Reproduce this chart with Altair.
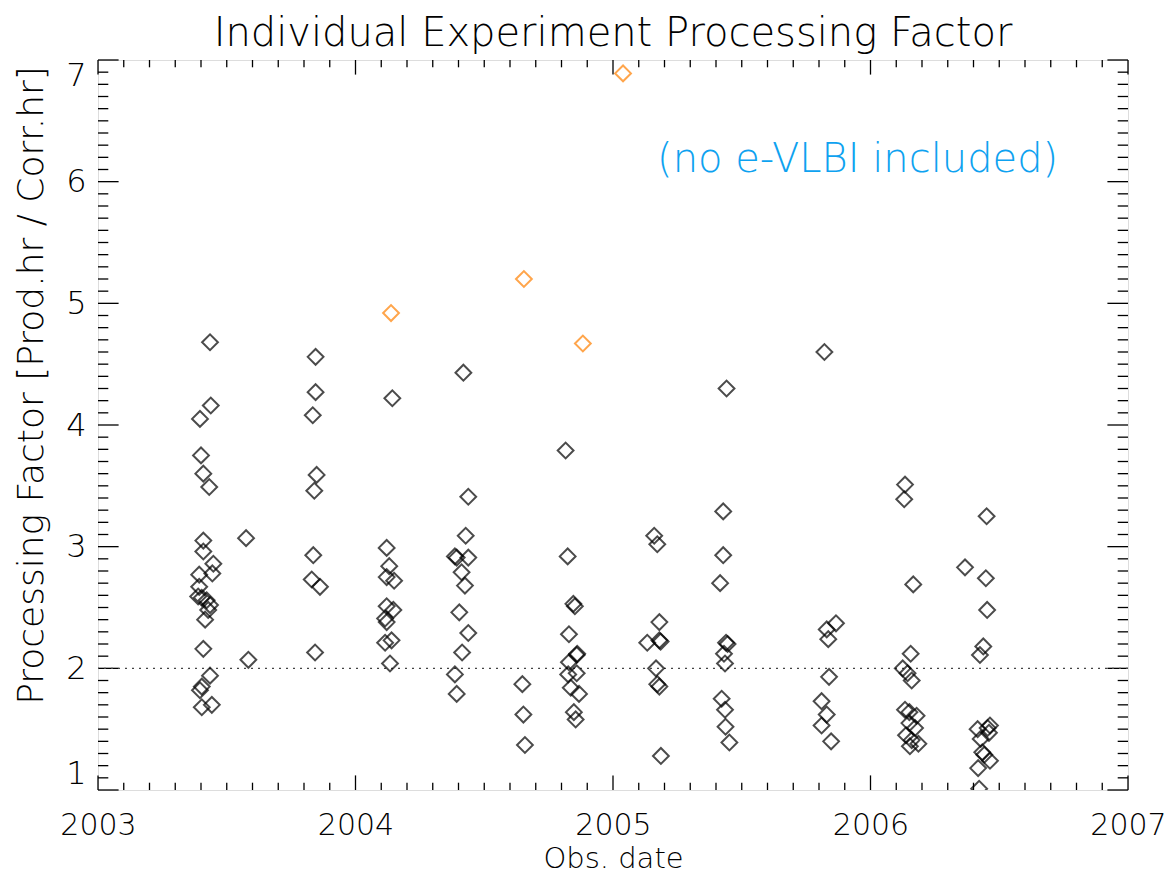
import altair as alt
import pandas as pd

# ---- data (decimal year, processing factor) ----
dates = [
    2003.435, 2003.438, 2003.396, 2003.400, 2003.409, 2003.432, 2003.575, 2003.409,
    2003.409, 2003.448, 2003.444, 2003.393, 2003.393, 2003.389, 2003.403, 2003.422,
    2003.435, 2003.428, 2003.416, 2003.409, 2003.584, 2003.435, 2003.403, 2003.396,
    2003.403, 2003.442,
    2003.845, 2003.845, 2003.834, 2003.849, 2003.840, 2003.836, 2003.830, 2003.862,
    2003.843,
    2004.143, 2004.121, 2004.131, 2004.121, 2004.150, 2004.121, 2004.147, 2004.115,
    2004.121, 2004.140, 2004.115, 2004.134,
    2004.419, 2004.438, 2004.428, 2004.393, 2004.386, 2004.438, 2004.412, 2004.425,
    2004.403, 2004.438, 2004.414, 2004.386, 2004.393,
    2004.648, 2004.652, 2004.658,
    2004.816, 2004.824, 2004.846, 2004.852, 2004.829, 2004.861, 2004.859, 2004.829,
    2004.826, 2004.859, 2004.836, 2004.868, 2004.848, 2004.855,
    2005.160, 2005.172, 2005.180, 2005.133, 2005.180, 2005.185, 2005.167, 2005.172,
    2005.180, 2005.186,
    2005.441, 2005.428, 2005.428, 2005.416, 2005.439, 2005.445, 2005.431, 2005.435,
    2005.422, 2005.435, 2005.437, 2005.452,
    2005.821, 2005.866, 2005.830, 2005.836, 2005.839, 2005.810, 2005.830, 2005.810,
    2005.847,
    2006.134, 2006.131, 2006.166, 2006.156, 2006.125, 2006.144, 2006.160, 2006.134,
    2006.151, 2006.179, 2006.151, 2006.173, 2006.138, 2006.160, 2006.186, 2006.153,
    2006.451, 2006.367, 2006.448, 2006.453, 2006.438, 2006.425, 2006.464, 2006.455,
    2006.416, 2006.460, 2006.428, 2006.434, 2006.442, 2006.464, 2006.418, 2006.422,
]
factors = [
    4.68, 4.16, 4.05, 3.75, 3.60, 3.49, 3.07, 3.05,
    2.96, 2.86, 2.78, 2.77, 2.67, 2.59, 2.58, 2.56,
    2.52, 2.48, 2.40, 2.16, 2.07, 1.94, 1.85, 1.82,
    1.68, 1.70,
    4.56, 4.27, 4.08, 3.59, 3.46, 2.93, 2.73, 2.67,
    2.13,
    4.22, 2.99, 2.84, 2.75, 2.72, 2.51, 2.48, 2.41,
    2.38, 2.23, 2.21, 2.04,
    4.43, 3.41, 3.09, 2.91, 2.92, 2.91, 2.79, 2.68,
    2.46, 2.29, 2.13, 1.95, 1.79,
    1.87, 1.62, 1.37,
    3.79, 2.92, 2.53, 2.51, 2.28, 2.12, 2.11, 2.05,
    1.95, 1.96, 1.84, 1.79, 1.64, 1.58,
    3.09, 3.02, 2.38, 2.21, 2.23, 2.22, 2.00, 1.87,
    1.85, 1.28,
    4.30, 3.29, 2.93, 2.70, 2.21, 2.20, 2.12, 2.04,
    1.75, 1.66, 1.52, 1.39,
    4.60, 2.37, 2.32, 2.24, 1.93, 1.73, 1.62, 1.53,
    1.40,
    3.51, 3.39, 2.69, 2.12, 2.00, 1.96, 1.90, 1.66,
    1.64, 1.61, 1.55, 1.51, 1.45, 1.41, 1.38, 1.36,
    3.25, 2.83, 2.74, 2.48, 2.18, 2.11, 1.53, 1.51,
    1.50, 1.47, 1.42, 1.31, 1.29, 1.24, 1.18, 1.01,
]
# highlighted (orange) experiments
hi_dates = [2004.138, 2004.654, 2004.883, 2005.039]
hi_factors = [4.92, 5.20, 4.67, 6.89]

x_major = [2003, 2004, 2005, 2006, 2007]
y_major = [1, 2, 3, 4, 5, 6, 7]
reference_level = [2.0]
note_text = ["(no e-VLBI included)"]
note_pos = ([2005.95], [6.18])

# ---- tables ----
pts = pd.DataFrame({
    "date": dates + hi_dates,
    "pf": factors + hi_factors,
    "kind": ["normal"] * len(dates) + ["highlight"] * len(hi_dates),
})
x_minor = [round(2003 + i / 10, 1) for i in range(41) if i % 10 != 0]
y_minor = [round(1 + i / 10, 1) for i in range(61) if i % 10 != 0]
xmaj_df = pd.DataFrame({"date": x_major})
xmin_df = pd.DataFrame({"date": x_minor})
ymaj_df = pd.DataFrame({"pf": y_major})
ymin_df = pd.DataFrame({"pf": y_minor})
ref_df = pd.DataFrame({"pf": reference_level})
note_df = pd.DataFrame({"date": note_pos[0], "pf": note_pos[1], "t": note_text})

W, H = 1030, 730
FONT = "DejaVu Sans"
XT = 14.6   # x-axis major tick length
YT = 20.6   # y-axis major tick length

xscale = alt.Scale(domain=[2003, 2007], nice=False, zero=False)
yscale = alt.Scale(domain=[1, 7], nice=False, zero=False)

points = alt.Chart(pts).mark_point(
    shape="diamond", filled=False, size=250, strokeWidth=2, clip=True
).encode(
    x=alt.X("date:Q", scale=xscale, axis=alt.Axis(
        values=x_major, format="d", ticks=False, domain=False, grid=False,
        labelFont=FONT, labelFontSize=30, labelColor="black", labelPadding=20,
        labelFontWeight=200, labelFlush=False,
        title="Obs. date", titleFont=FONT, titleFontSize=29, titleFontWeight=200,
        titleColor="black", titlePadding=4)),
    y=alt.Y("pf:Q", scale=yscale, axis=alt.Axis(
        values=y_major, format="d", ticks=False, domain=False, grid=False,
        labelFont=FONT, labelFontSize=32, labelColor="black", labelPadding=12,
        labelFontWeight=200, labelFlush=True,
        title="Processing Factor [Prod.hr / Corr.hr]", titleFont=FONT,
        titleFontSize=36, titleFontWeight=200, titleColor="black", titlePadding=15,
        titleY=325)),
    stroke=alt.Stroke("kind:N", scale=alt.Scale(domain=["normal", "highlight"],
                                                 range=["black", "#ff8000"]), legend=None),
)

def xticks(df, y0, y1):
    return alt.Chart(df).mark_rule(color="black", strokeWidth=1.3).encode(
        x=alt.X("date:Q", scale=xscale), y=alt.value(y0), y2=alt.value(y1))

def yticks(df, x0, x1):
    return alt.Chart(df).mark_rule(color="black", strokeWidth=1.3).encode(
        y=alt.Y("pf:Q", scale=yscale), x=alt.value(x0), x2=alt.value(x1))

ticks = [
    xticks(xmaj_df, H, H - XT), xticks(xmin_df, H, H - XT / 2),
    xticks(xmaj_df, 0, XT), xticks(xmin_df, 0, XT / 2),
    yticks(ymaj_df, 0, YT), yticks(ymin_df, 0, YT / 2),
    yticks(ymaj_df, W, W - YT), yticks(ymin_df, W, W - YT / 2),
]

ref = alt.Chart(ref_df).mark_rule(color="#444444", strokeWidth=1.2,
                                  strokeDash=[2, 5]).encode(y=alt.Y("pf:Q", scale=yscale))

note = alt.Chart(note_df).mark_text(font=FONT, fontSize=40, fontWeight=200,
                                    color="#0ea2f0").encode(
    x=alt.X("date:Q", scale=xscale), y=alt.Y("pf:Q", scale=yscale), text="t:N")

chart = alt.layer(*ticks, ref, points, note).properties(
    width=W, height=H,
    title=alt.TitleParams("Individual Experiment Processing Factor", font=FONT,
                          fontSize=40, fontWeight=200, color="black", offset=5),
    autosize=alt.AutoSizeParams(type="none"),
    padding={"left": 90, "top": 52, "right": 39, "bottom": 84},
).configure_view(stroke="black", strokeWidth=1.5).configure(background="white")

chart.save("out.html", embed_options={"renderer": "svg", "actions": False})
